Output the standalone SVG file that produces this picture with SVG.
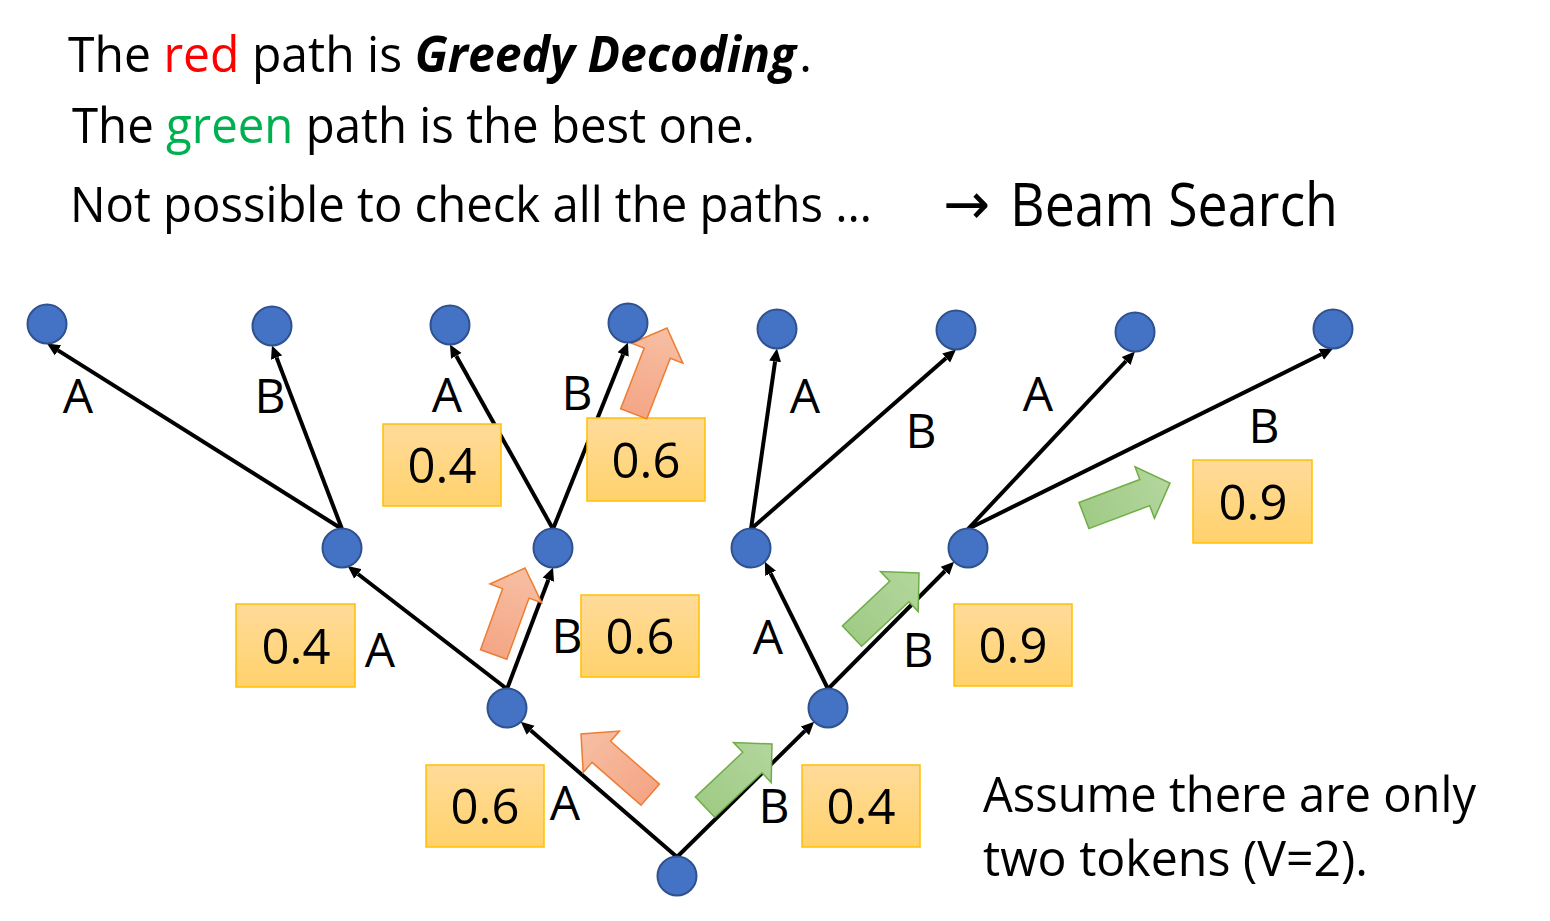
<svg xmlns="http://www.w3.org/2000/svg" width="1550" height="921" viewBox="0 0 1550 921">
<defs>
<style>
.t{font-family:"Open Sans","Noto Sans","Liberation Sans",sans-serif;fill:#000}
.ttl{font-size:50px}
.lbl{font-size:48px;text-anchor:middle}
.num{font-size:49px;text-anchor:middle}
.node{fill:#4472C4;stroke:#2F528F;stroke-width:2}
.box{fill:url(#gBox);stroke:#FFC000;stroke-width:1.5}
.edge{stroke:#000;stroke-width:4;fill:none;marker-end:url(#ah)}
.red{fill:url(#gRed);stroke:#ED7D31;stroke-width:1.5}
.grn{fill:url(#gGrn);stroke:#70AD47;stroke-width:1.5}
</style>
<linearGradient id="gBox" x1="0" y1="0" x2="0" y2="1"><stop offset="0" stop-color="#FFDB9A"/><stop offset="1" stop-color="#FFD26C"/></linearGradient>
<linearGradient id="gRed" x1="0" y1="0" x2="1" y2="0"><stop offset="0" stop-color="#F4A686"/><stop offset="1" stop-color="#F7BFA3"/></linearGradient>
<linearGradient id="gGrn" x1="0" y1="0" x2="1" y2="0"><stop offset="0" stop-color="#A0CB86"/><stop offset="1" stop-color="#B3D69D"/></linearGradient>
<marker id="ah" markerUnits="userSpaceOnUse" markerWidth="14" markerHeight="13" refX="0" refY="6.5" orient="auto" viewBox="0 0 14 13"><path d="M0,0.5 L13,6.5 L0,12.5 z" fill="#000"/></marker>
<polygon id="blk" points="-92,-14 -27,-14 -27,-27.5 0,0 -27,27.5 -27,14 -92,14"/>
</defs>
<rect width="1550" height="921" fill="#fff"/>

<g id="titles">
<text class="t ttl" x="68" y="72" textLength="728" lengthAdjust="spacingAndGlyphs">The <tspan fill="#FF0000">red</tspan> path is <tspan font-weight="bold" font-style="italic">Greedy Decoding</tspan></text>
<text class="t ttl" x="799" y="72">.</text>
<text class="t ttl" x="72" y="143" textLength="683" lengthAdjust="spacingAndGlyphs">The <tspan fill="#00B050">green</tspan> path is the best one.</text>
<text class="t ttl" x="70" y="222" textLength="802" lengthAdjust="spacingAndGlyphs">Not possible to check all the paths …</text>
<text x="943" y="224" font-family="'DejaVu Sans',sans-serif" font-size="58" textLength="47" lengthAdjust="spacingAndGlyphs">→</text>
<text class="t" x="1010" y="226" font-size="60" textLength="328" lengthAdjust="spacingAndGlyphs">Beam Search</text>
<text class="t ttl" x="983" y="812" textLength="493" lengthAdjust="spacingAndGlyphs">Assume there are only</text>
<text class="t ttl" x="983" y="876" textLength="385" lengthAdjust="spacingAndGlyphs">two tokens (V=2).</text>
</g>

<g id="connectors">
<line class="edge" x1="677" y1="857" x2="530.6" y2="730.3"/>
<line class="edge" x1="677" y1="857" x2="804.9" y2="730.9"/>
<line class="edge" x1="507" y1="689" x2="357.9" y2="574.0"/>
<line class="edge" x1="507" y1="689" x2="548.4" y2="579.7"/>
<line class="edge" x1="828" y1="689" x2="770.6" y2="573.4"/>
<line class="edge" x1="828" y1="689" x2="945.0" y2="571.0"/>
<line class="edge" x1="342" y1="529" x2="58.0" y2="350.4"/>
<line class="edge" x1="342" y1="529" x2="276.6" y2="357.6"/>
<line class="edge" x1="553" y1="529" x2="456.3" y2="355.9"/>
<line class="edge" x1="553" y1="529" x2="623.1" y2="354.6"/>
<line class="edge" x1="751" y1="529" x2="775.1" y2="361.4"/>
<line class="edge" x1="751" y1="529" x2="946.2" y2="358.1"/>
<line class="edge" x1="968" y1="529" x2="1126.1" y2="361.0"/>
<line class="edge" x1="968" y1="529" x2="1321.3" y2="354.3"/>
</g>

<g id="edge-labels">
<text class="t lbl" x="565" y="820">A</text>
<text class="t lbl" x="774" y="823">B</text>
<text class="t lbl" x="380" y="667">A</text>
<text class="t lbl" x="567" y="653">B</text>
<text class="t lbl" x="768" y="654">A</text>
<text class="t lbl" x="918" y="667">B</text>
<text class="t lbl" x="78" y="413">A</text>
<text class="t lbl" x="270" y="413">B</text>
<text class="t lbl" x="447" y="412">A</text>
<text class="t lbl" x="577" y="410">B</text>
<text class="t lbl" x="805" y="413">A</text>
<text class="t lbl" x="921" y="448">B</text>
<text class="t lbl" x="1038" y="411">A</text>
<text class="t lbl" x="1264" y="443">B</text>
</g>

<g id="prob-boxes">
<g id="p-root-A"><rect class="box" x="426" y="765" width="118" height="82"/><text class="t num" x="485" y="824">0.6</text></g>
<g id="p-root-B"><rect class="box" x="802" y="765" width="118" height="82"/><text class="t num" x="861" y="824">0.4</text></g>
<g id="p-A-A"><rect class="box" x="236" y="604" width="119" height="83"/><text class="t num" x="296" y="664">0.4</text></g>
<g id="p-A-B"><rect class="box" x="581" y="595" width="118" height="82"/><text class="t num" x="640" y="654">0.6</text></g>
<g id="p-B-B"><rect class="box" x="954" y="604" width="118" height="82"/><text class="t num" x="1013" y="663">0.9</text></g>
<g id="p-AB-A"><rect class="box" x="383" y="424" width="118" height="82"/><text class="t num" x="442" y="483">0.4</text></g>
<g id="p-AB-B"><rect class="box" x="587" y="418" width="118" height="83"/><text class="t num" x="646" y="478">0.6</text></g>
<g id="p-BB-B"><rect class="box" x="1193" y="460" width="119" height="83"/><text class="t num" x="1253" y="520">0.9</text></g>
</g>

<g id="path-arrows">
<use href="#blk" class="red" transform="translate(581,734) rotate(221.2)"/>
<use href="#blk" class="red" transform="translate(525,568) rotate(-70.1)"/>
<use href="#blk" class="red" transform="translate(667,328) rotate(-68.8)"/>
<use href="#blk" class="grn" transform="translate(772,744) rotate(-43.3)"/>
<use href="#blk" class="grn" transform="translate(919,573) rotate(-43.3)"/>
<use href="#blk" class="grn" transform="translate(1170,483) rotate(-20.7)"/>
</g>

<g id="nodes">
<g id="n-root"><circle class="node" cx="677" cy="876" r="19.5"/></g>
<g id="n-A"><circle class="node" cx="507" cy="708" r="19.5"/></g>
<g id="n-B"><circle class="node" cx="828" cy="708" r="19.5"/></g>
<g id="n-AA"><circle class="node" cx="342" cy="548" r="19.5"/></g>
<g id="n-AB"><circle class="node" cx="553" cy="548" r="19.5"/></g>
<g id="n-BA"><circle class="node" cx="751" cy="548" r="19.5"/></g>
<g id="n-BB"><circle class="node" cx="968" cy="548" r="19.5"/></g>
<g id="n-AAA"><circle class="node" cx="47" cy="324" r="19.5"/></g>
<g id="n-AAB"><circle class="node" cx="272" cy="326" r="19.5"/></g>
<g id="n-ABA"><circle class="node" cx="450" cy="325" r="19.5"/></g>
<g id="n-ABB"><circle class="node" cx="628" cy="323" r="19.5"/></g>
<g id="n-BAA"><circle class="node" cx="777" cy="329" r="19.5"/></g>
<g id="n-BAB"><circle class="node" cx="956" cy="330" r="19.5"/></g>
<g id="n-BBA"><circle class="node" cx="1135" cy="332" r="19.5"/></g>
<g id="n-BBB"><circle class="node" cx="1333" cy="329" r="19.5"/></g>
</g>
</svg>
